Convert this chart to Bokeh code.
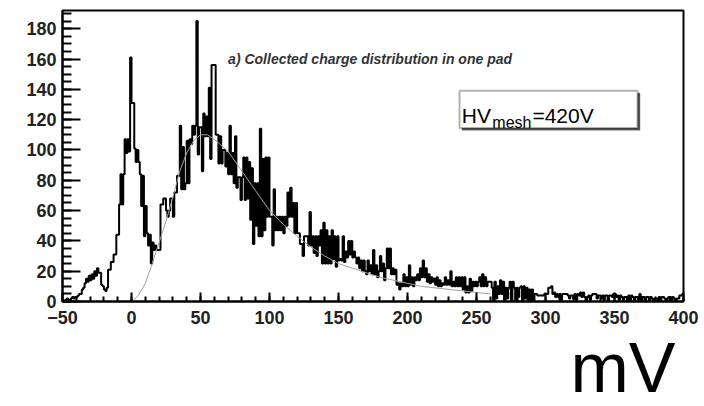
import numpy as np
from bokeh.plotting import figure
from bokeh.models import FixedTicker, Label, BoxAnnotation, Range1d, Title
from bokeh.embed import file_html
from bokeh.resources import INLINE

# ---- data -------------------------------------------------------------
x_start = -50          # first bin edge (mV)
bin_width = 1          # mV per bin
counts = [
    1, 0, 1, 2, 1, 1, 2, 3, 2, 3,                 # -50 .. -40
    3, 4, 5, 5, 8, 9, 12, 15, 13, 17,             # -40 .. -30
    14, 18, 15, 20, 17, 22, 19, 19, 11, 10,       # -30 .. -20
    8, 7, 9, 21, 21, 26, 26, 31, 31, 44,          # -20 .. -10
    44, 64, 84, 64, 84, 107, 98, 107, 99, 161,    # -10 .. 0
    131, 131, 101, 92, 100, 92, 84, 63, 83, 43,   # 0 .. 10
    63, 45, 37, 44, 25, 39, 34, 37, 34, 34,       # 10 .. 20
    34, 64, 64, 68, 68, 60, 56, 60, 68, 68,       # 20 .. 30
    56, 72, 72, 83, 83, 116, 74, 102, 74, 78,     # 30 .. 40
    106, 78, 107, 104, 116, 110, 116, 185, 97, 115,   # 40 .. 50
    115, 86, 124, 109, 122, 109, 141, 94, 156, 156,   # 50 .. 60
    156, 110, 110, 91, 109, 91, 100, 100, 89, 98,     # 60 .. 70
    84, 116, 84, 98, 78, 109, 75, 82, 82, 67,     # 70 .. 80
    82, 95, 67, 95, 68, 92, 54, 88, 38, 78,       # 80 .. 90
    50, 78, 43, 114, 43, 94, 47, 95, 56, 95,      # 90 .. 100
    56, 56, 37, 74, 47, 56, 47, 56, 47, 56,       # 100 .. 110
    45, 56, 50, 72, 56, 75, 56, 65, 45, 65,       # 110 .. 120
    45, 45, 38, 38, 30, 43, 43, 43, 37, 59,       # 120 .. 130
    37, 43, 32, 43, 30, 43, 37, 47, 25, 52,       # 130 .. 140
    25, 47, 25, 43, 25, 47, 28, 43, 23, 43,       # 140 .. 150
    27, 28, 27, 43, 26, 33, 29, 40, 31, 40,       # 150 .. 160
    29, 33, 29, 25, 29, 22, 27, 20, 27, 20,       # 160 .. 170
    18, 27, 20, 24, 18, 34, 18, 24, 16, 20,       # 170 .. 180
    30, 20, 25, 14, 22, 35, 22, 35, 18, 22,       # 180 .. 190
    18, 21, 11, 12, 8, 12, 10, 18, 10, 16,        # 190 .. 200
    10, 24, 11, 16, 10, 16, 14, 18, 14, 22,       # 200 .. 210
    16, 27, 16, 22, 13, 18, 12, 16, 13, 15,       # 210 .. 220
    11, 16, 10, 14, 10, 12, 11, 16, 11, 14,       # 220 .. 230
    11, 20, 10, 13, 10, 16, 10, 16, 10, 16,       # 230 .. 240
    8, 16, 6, 10, 6, 15, 7, 13, 10, 13,           # 240 .. 250
    10, 13, 16, 10, 18, 10, 16, 10, 13, 13,       # 250 .. 260
    13, 9, 0, 13, 2, 10, 5, 14, 5, 13,            # 260 .. 270
    1, 9, 2, 9, 13, 0, 13, 9, 1, 9,               # 270 .. 280
    3, 9, 10, 0, 10, 2, 9, 1, 8, 1,               # 280 .. 290
    8, 0, 5, 5, 4, 4, 4, 4, 4, 5,                 # 290 .. 300
    5, 5, 9, 9, 10, 5, 6, 3, 5, 3,                # 300 .. 310
    5, 1, 5, 5, 5, 5, 4, 2, 4, 4,                 # 310 .. 320
    2, 5, 1, 5, 4, 6, 3, 6, 3, 0,                 # 320 .. 330
    3, 4, 1, 4, 5, 5, 5, 2, 4, 4,                 # 330 .. 340
    2, 4, 1, 4, 4, 0, 4, 4, 3, 5,                 # 340 .. 350
    5, 3, 4, 1, 4, 3, 0, 3, 3, 0,                 # 350 .. 360
    4, 1, 4, 3, 0, 3, 3, 1, 5, 1,                 # 360 .. 370
    3, 3, 0, 3, 3, 0, 3, 2, 0, 2,                 # 370 .. 380
    2, 0, 3, 0, 3, 3, 2, 0, 2, 3,                 # 380 .. 390
    3, 1, 3, 2, 0, 2, 2, 4, 4, 5,                 # 390 .. 400
]

fit_x = [1, 5, 10, 15, 20, 25, 30, 35, 40, 45, 50, 55, 60, 65, 70, 80, 90,
         100, 110, 120, 130, 140, 150, 160, 170, 180, 190, 200, 210, 220,
         230, 240, 250, 260]
fit_y = [0.5, 4, 12, 25, 39, 53, 69, 86, 98, 106, 110, 110, 107, 103, 99,
         86, 73, 60, 51, 43, 36, 30, 25, 22, 19, 16, 14, 12, 10, 9, 8, 7, 6, 5]

x_ticks = [-50, 0, 50, 100, 150, 200, 250, 300, 350, 400]
y_ticks = [0, 20, 40, 60, 80, 100, 120, 140, 160, 180]

title_text = "a) Collected charge distribution in one pad"
hv_main, hv_sub, hv_tail = "HV", "mesh", "=420V"
unit_text = "mV"

# ---- figure -----------------------------------------------------------
edges = x_start + bin_width * np.arange(len(counts) + 1)
step_y = counts + [counts[-1]]

p = figure(width=704, height=406,
           x_range=Range1d(-50, 400), y_range=Range1d(0, 192),
           output_backend="svg", toolbar_location=None,
           min_border_left=62, min_border_right=21,
           min_border_top=10, min_border_bottom=20)

p.grid.visible = False
p.background_fill_color = "white"
p.border_fill_color = "white"
p.outline_line_color = "black"
p.outline_line_width = 2

p.step(edges, step_y, mode="after", line_color="black", line_width=2)
p.line(fit_x, fit_y, line_color="#a0a0a0", line_width=1)

p.xaxis.ticker = FixedTicker(ticks=x_ticks, minor_ticks=list(range(-50, 401, 10)))
p.yaxis.ticker = FixedTicker(ticks=y_ticks, minor_ticks=list(range(0, 192, 5)))

for ax in (p.xaxis[0], p.yaxis[0]):
    ax.axis_line_color = "black"
    ax.axis_line_width = 2
    ax.major_tick_line_color = "black"
    ax.minor_tick_line_color = "black"
    ax.major_tick_line_width = 2
    ax.minor_tick_line_width = 2
    ax.major_tick_out = 0
    ax.minor_tick_out = 0
    ax.major_label_text_font = "Liberation Sans"
    ax.major_label_text_font_style = "bold"
    ax.major_label_text_font_size = "18px"
    ax.major_label_text_color = "#222222"

p.yaxis.major_tick_in = 18
p.yaxis.minor_tick_in = 9
p.yaxis.major_label_standoff = 6
p.xaxis.major_tick_in = 9
p.xaxis.minor_tick_in = 5
p.xaxis.major_label_standoff = 9

# large unit text below the axis, right aligned
p.add_layout(Title(text=unit_text, align="right", text_font="Liberation Sans",
                   text_font_style="normal", text_font_size="70px",
                   text_color="black", standoff=0, offset=8), "below")

# title text inside the frame
p.add_layout(Label(x=70, y=160, text=title_text, text_font="Liberation Sans",
                   text_font_style="bold italic", text_font_size="14px",
                   text_color="#333333", text_baseline="alphabetic"))

# HV box with shadow
p.add_layout(BoxAnnotation(left=239.5, right=368.5, bottom=113, top=137.5,
                           fill_color="#555555", fill_alpha=1,
                           line_color="#555555", line_width=1))
p.add_layout(BoxAnnotation(left=237.7, right=366.7, bottom=114.5, top=139,
                           fill_color="white", fill_alpha=1,
                           line_color="black", line_width=2))
p.add_layout(Label(x=239.3, y=122.4, text=hv_main, text_font="Liberation Sans",
                   text_font_size="21px", text_color="black",
                   text_baseline="alphabetic"))
p.add_layout(Label(x=261.5, y=117.8, text=hv_sub, text_font="Liberation Sans",
                   text_font_size="16px", text_color="black",
                   text_baseline="alphabetic"))
p.add_layout(Label(x=290.5, y=122.4, text=hv_tail, text_font="Liberation Sans",
                   text_font_size="21px", text_color="black",
                   text_baseline="alphabetic"))

open("out.html", "w").write(file_html(p, INLINE))
